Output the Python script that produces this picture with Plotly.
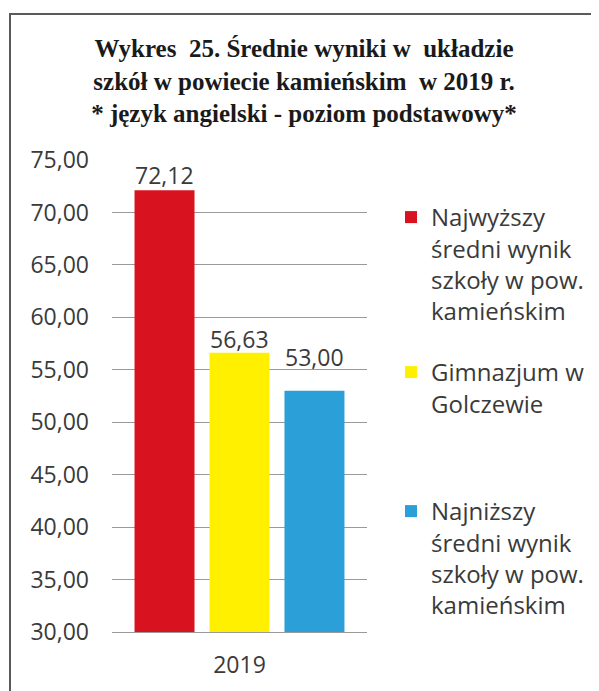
import plotly.graph_objects as go

categories = ["2019"]
series_names = [
    "Najwyższy<br>średni wynik<br>szkoły w pow.<br>kamieńskim",
    "Gimnazjum w<br>Golczewie",
    "Najniższy<br>średni wynik<br>szkoły w pow.<br>kamieńskim",
]
series_values = [[72.12], [56.63], [53.00]]
series_colors = ["#d9121f", "#fff000", "#2a9fd8"]
tick_values = [30, 35, 40, 45, 50, 55, 60, 65, 70, 75]

OFF = 8  # default body margin of the page
W, H = 599 - OFF, 691 - OFF
L, R, T, B = 112 - OFF, 367 - OFF, 160 - OFF, 632 - OFF  # plot area in figure px

def px_x(p):  # page px -> paper x
    return (p - OFF - L) / (R - L)

def px_y(p):  # page px -> paper y
    return 1 - (p - OFF - T) / (B - T)

TXT = "#3a3a3a"
FONT = "Open Sans"
FS = 23

fig = go.Figure()
legend_ids = ["legend", "legend2", "legend3"]
for name, vals, col, lg in zip(series_names, series_values, series_colors, legend_ids):
    fig.add_trace(go.Bar(x=categories, y=vals, name=name, marker_color=col,
                         marker_line_width=0, legend=lg, hoverinfo="y"))

# data labels
label_xshift = [-75, 0, 75]
label_yshift = [15, 14, 34]
for vals, xs, ys in zip(series_values, label_xshift, label_yshift):
    fig.add_annotation(x=0, y=vals[0], text=f"{vals[0]:.2f}".replace(".", ","),
                       showarrow=False, xshift=xs, yshift=ys, yanchor="middle",
                       font=dict(family=FONT, size=FS, color=TXT))

# frame
fig.add_shape(type="rect", xref="paper", yref="paper",
              x0=px_x(10), x1=px_x(640), y0=px_y(740), y1=px_y(14),
              line=dict(color="#5a5a5a", width=2), fillcolor="rgba(0,0,0,0)", layer="below")

legend_common = dict(font=dict(family=FONT, size=24, color=TXT), bgcolor="rgba(0,0,0,0)",
                     xanchor="left", yanchor="top", valign="top", itemclick=False,
                     tracegroupgap=0)

fig.update_layout(
    width=W, height=H,
    margin=dict(l=L, r=W - R, t=T, b=H - B, autoexpand=False),
    paper_bgcolor="white", plot_bgcolor="white",
    separators=", ",
    barmode="group", bargap=0.118, bargroupgap=0.2,
    title=dict(text="Wykres&nbsp; 25. Średnie wyniki w&nbsp; układzie<br>szkół w powiecie kamieńskim&nbsp; w 2019 r.<br>* język angielski - poziom podstawowy*",
               x=296 / W, xanchor="center", y=1 - 49 / H, yanchor="top",
               font=dict(family="Liberation Serif", size=25, color="#1a1a1a", weight="bold")),
    yaxis=dict(range=[30, 75], tickvals=tick_values, tickformat=".2f",
               showgrid=True, gridcolor="#9a9a9a", gridwidth=1, zeroline=False,
               showline=False, ticks="", ticklabelstandoff=22,
               tickfont=dict(family=FONT, size=FS, color=TXT)),
    xaxis=dict(type="category", range=[-0.5, 0.5], showline=True, linecolor="#9a9a9a",
               linewidth=1, ticks="",
               tickfont=dict(family=FONT, size=FS, color=TXT), ticklabelstandoff=12),
    showlegend=True,
    legend=dict(x=px_x(391), y=px_y(195), **legend_common),
    legend2=dict(x=px_x(391), y=px_y(350), **legend_common),
    legend3=dict(x=px_x(391), y=px_y(489), **legend_common),
)

fig.write_html("out.html")
